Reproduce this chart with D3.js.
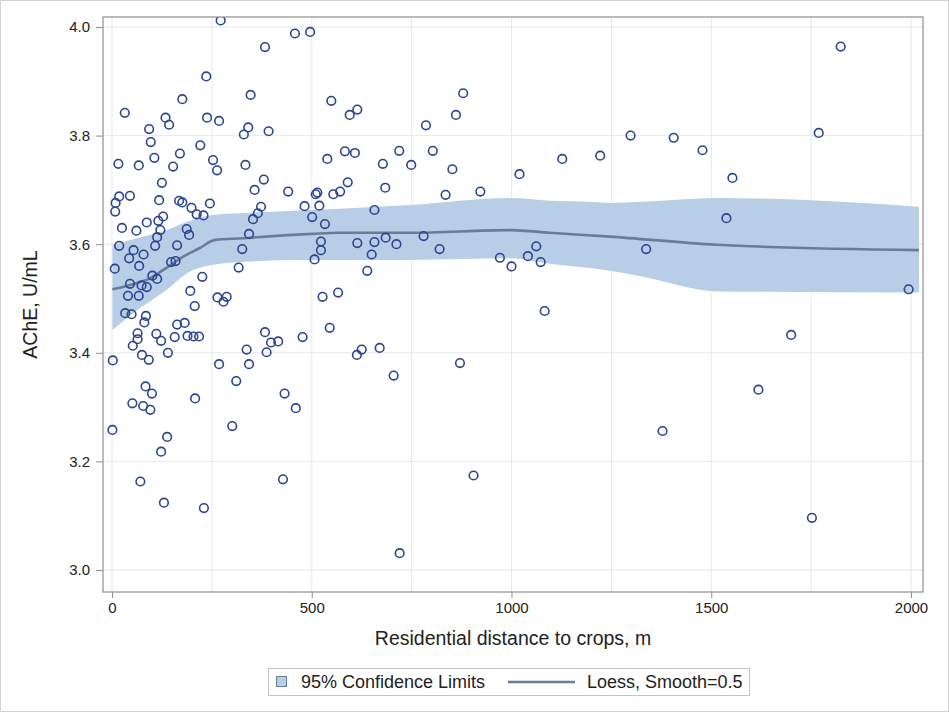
<!DOCTYPE html>
<html><head><meta charset="utf-8">
<script src="https://cdn.jsdelivr.net/npm/d3@7/dist/d3.min.js"></script>
<style>
body{margin:0;background:#fff}
svg{display:block}
text{font-family:"Liberation Sans",Arial,sans-serif;fill:#222}
</style>
</head><body>
<svg id="chart" width="949" height="712"></svg>
<script>
// ---- data ----
const distance = [272,458,496,383,236,347,176,32,134,143,238,268,93,97,341,330,392,221,170,106,16,67,153,253,263,334,125,380,357,441,510,18,45,9,8,118,168,176,199,245,212,229,373,365,353,482,501,128,116,87,25,61,121,113,187,193,108,163,18,343,326,54,79,43,148,159,68,7,317,101,113,226,45,74,87,196,40,67,264,287,279,
207,33,49,85,81,163,182,64,64,111,123,157,189,204,218,52,75,92,140,2,268,337,343,311,383,387,398,416,477,84,100,51,78,96,208,1,301,432,460,138,123,71,428,130,230,
549,595,614,786,861,879,539,583,608,719,803,678,749,852,1020,1127,590,571,554,514,684,835,922,519,657,533,523,523,507,614,657,685,712,650,780,820,639,971,1000,1041,1062,1073,527,566,
545,613,625,670,705,871,1083,905,720,
1824,1222,1298,1406,1478,1769,1553,1538,1337,1994,
1700,1618,1378,1752];
const ache = [4.012,3.988,3.991,3.963,3.909,3.875,3.867,3.842,3.833,3.820,3.833,3.827,3.812,3.788,3.815,3.802,3.808,3.782,3.767,3.759,3.748,3.745,3.743,3.755,3.736,3.746,3.713,3.719,3.700,3.697,3.692,3.688,3.689,3.676,3.660,3.681,3.680,3.677,3.667,3.675,3.655,3.653,3.669,3.657,3.646,3.670,3.650,3.651,3.643,3.640,3.630,3.625,3.626,3.613,3.628,3.617,3.597,3.598,3.597,3.619,3.591,3.589,3.581,3.574,3.567,3.569,3.560,3.555,3.557,3.542,3.536,3.540,3.527,3.524,3.521,3.514,3.505,3.505,3.502,3.503,3.494,
3.486,3.473,3.471,3.468,3.456,3.452,3.455,3.436,3.425,3.435,3.422,3.429,3.431,3.430,3.430,3.413,3.396,3.387,3.400,3.386,3.379,3.406,3.379,3.348,3.438,3.401,3.419,3.421,3.429,3.338,3.325,3.307,3.302,3.295,3.316,3.258,3.265,3.325,3.298,3.245,3.218,3.163,3.167,3.124,3.114,
3.864,3.838,3.848,3.819,3.838,3.878,3.757,3.771,3.768,3.772,3.772,3.748,3.746,3.738,3.729,3.757,3.714,3.697,3.692,3.695,3.704,3.691,3.697,3.671,3.663,3.637,3.605,3.589,3.572,3.602,3.604,3.612,3.600,3.581,3.615,3.591,3.551,3.575,3.559,3.578,3.596,3.567,3.503,3.511,
3.446,3.396,3.406,3.409,3.358,3.381,3.477,3.174,3.031,
3.964,3.763,3.800,3.796,3.773,3.805,3.722,3.648,3.591,3.517,
3.433,3.332,3.256,3.096];

const loessX = [1,50,95,137,178,220,258,330,387,500,570,745,1000,1096,1246,1513,2020];
const loessY = [3.517,3.526,3.537,3.557,3.577,3.593,3.608,3.611,3.614,3.619,3.621,3.621,3.626,3.621,3.614,3.599,3.589];

const ciX     = [1,53,137,187,253,345,470,745,996,1096,1196,1246,1328,1520,2020];
const ciUpper = [3.599,3.609,3.626,3.641,3.654,3.658,3.662,3.672,3.685,3.680,3.678,3.676,3.678,3.685,3.669];
const ciLower = [3.442,3.473,3.516,3.546,3.562,3.568,3.571,3.571,3.574,3.564,3.556,3.551,3.540,3.513,3.511];

const xTicks = [0,500,1000,1500,2000];
const xGridVals = [0,250,500,750,1000,1250,1500,1750,2000];
const yTicks = [3.0,3.2,3.4,3.6,3.8,4.0];
const xTitle = "Residential distance to crops, m";
const yTitle = "AChE, U/mL";
const legendBand = "95% Confidence Limits";
const legendLine = "Loess, Smooth=0.5";

// ---- drawing ----
const W = 949, H = 712;
const frame = {l:103, r:923, t:17, b:592};
const x = d3.scaleLinear().domain([0,2000]).range([112,911]);
const y = d3.scaleLinear().domain([3.0,4.0]).range([570,27]);

const col = {
  marker:"#2c4591", band:"#b8cde6", line:"#697d9b",
  grid:"#e8e8e8", frame:"#8e8e8e", outer:"#d2d2d2"
};

const svg = d3.select("#chart");
svg.append("rect").attr("x",0.5).attr("y",0.5).attr("width",W-1).attr("height",H-1)
  .attr("fill","#fff").attr("stroke",col.outer);

svg.append("defs").append("clipPath").attr("id","clip")
  .append("rect").attr("x",frame.l).attr("y",frame.t)
  .attr("width",frame.r-frame.l).attr("height",frame.b-frame.t);

// grid
const g = svg.append("g");
g.selectAll("line.gx").data(xGridVals).join("line")
  .attr("x1",d=>x(d)).attr("x2",d=>x(d)).attr("y1",frame.t).attr("y2",frame.b)
  .attr("stroke",col.grid).attr("stroke-width",1);
g.selectAll("line.gy").data(yTicks).join("line").attr("class","gy")
  .attr("x1",frame.l).attr("x2",frame.r).attr("y1",d=>y(d)).attr("y2",d=>y(d))
  .attr("stroke",col.grid).attr("stroke-width",1);

const plot = svg.append("g").attr("clip-path","url(#clip)");

// band
const ci = ciX.map((d,i)=>({x:d,lo:ciLower[i],hi:ciUpper[i]}));
plot.append("path").datum(ci)
  .attr("d", d3.area().x(d=>x(d.x)).y0(d=>y(d.lo)).y1(d=>y(d.hi)).curve(d3.curveMonotoneX))
  .attr("fill",col.band);

// loess
const lo = loessX.map((d,i)=>({x:d,y:loessY[i]}));
plot.append("path").datum(lo)
  .attr("d", d3.line().x(d=>x(d.x)).y(d=>y(d.y)).curve(d3.curveMonotoneX))
  .attr("fill","none").attr("stroke",col.line).attr("stroke-width",2.6);

// points
const pts = distance.map((d,i)=>({x:d,y:ache[i]}));
plot.selectAll("circle").data(pts).join("circle")
  .attr("cx",d=>x(d.x)).attr("cy",d=>y(d.y)).attr("r",4.3)
  .attr("fill","none").attr("stroke",col.marker).attr("stroke-width",1.6);

// frame
svg.append("rect").attr("x",frame.l).attr("y",frame.t)
  .attr("width",frame.r-frame.l).attr("height",frame.b-frame.t)
  .attr("fill","none").attr("stroke",col.frame).attr("stroke-width",1.2);

// axes
const xAxis = svg.append("g").attr("transform",`translate(0,${frame.b})`)
  .call(d3.axisBottom(x).tickValues(xTicks).tickFormat(d3.format("d")).tickSize(6).tickPadding(4));
const yAxis = svg.append("g").attr("transform",`translate(${frame.l},0)`)
  .call(d3.axisLeft(y).tickValues(yTicks).tickFormat(d3.format(".1f")).tickSize(7).tickPadding(6));
[xAxis,yAxis].forEach(a=>{
  a.select(".domain").remove();
  a.selectAll(".tick line").attr("stroke",col.frame);
  a.selectAll(".tick text").attr("font-size",15).attr("fill","#222")
    .attr("font-family",'"Liberation Sans",Arial,sans-serif');
});

// titles
svg.append("text").attr("x",(frame.l+frame.r)/2).attr("y",645)
  .attr("text-anchor","middle").attr("font-size",19.5).text(xTitle);
svg.append("text").attr("transform",`translate(37,${(frame.t+frame.b)/2}) rotate(-90)`)
  .attr("text-anchor","middle").attr("font-size",19.5).text(yTitle);

// legend
const lg = svg.append("g");
lg.append("rect").attr("x",268.5).attr("y",668.5).attr("width",481).attr("height",27)
  .attr("fill","#fff").attr("stroke","#c4c4c4");
lg.append("rect").attr("x",276.5).attr("y",676.5).attr("width",10).attr("height",10)
  .attr("fill",col.band).attr("stroke",col.line).attr("stroke-width",1);
lg.append("text").attr("x",301).attr("y",688).attr("font-size",18).text(legendBand);
lg.append("line").attr("x1",508).attr("x2",575).attr("y1",682).attr("y2",682)
  .attr("stroke",col.line).attr("stroke-width",2.6);
lg.append("text").attr("x",587).attr("y",688).attr("font-size",18).text(legendLine);
</script>
</body></html>
